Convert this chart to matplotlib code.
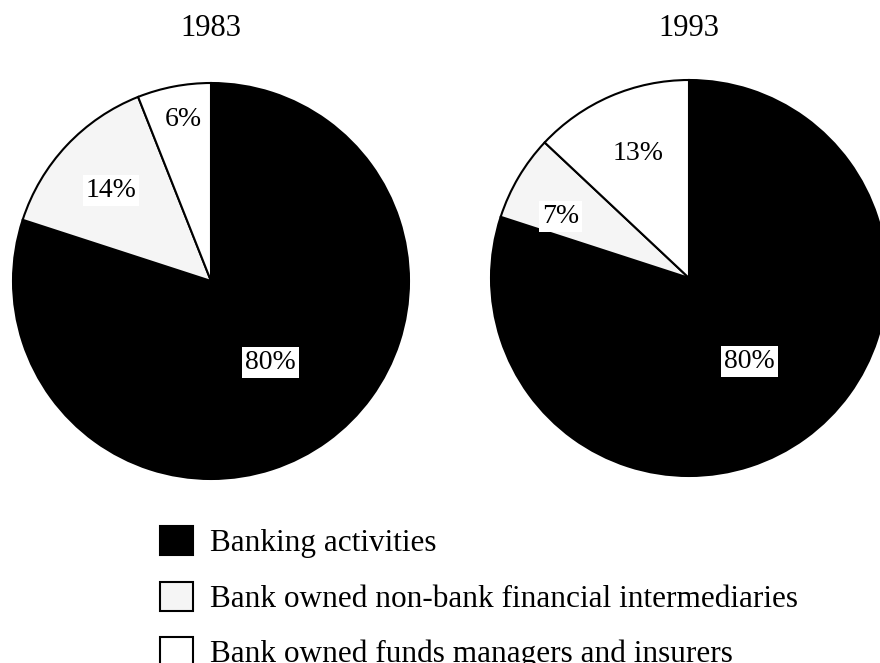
import numpy as np
import matplotlib
matplotlib.use("Agg")
import matplotlib.pyplot as plt
from matplotlib.patches import Patch

plt.rcParams['font.family'] = ['Liberation Serif', 'DejaVu Serif']

years = ["1983", "1993"]
categories = ["Banking activities",
              "Bank owned non-bank financial intermediaries",
              "Bank owned funds managers and insurers"]
shares_1983 = [80, 14, 6]
shares_1993 = [80, 7, 13]
colors = ["black", "#f5f5f5", "white"]

# label placement per wedge: fraction of radius, angle nudge in degrees
label_dist = [[0.51, 0.68, 0.83], [0.52, 0.72, 0.68]]
label_nudge = [[0, 1, -1], [0, 5, -1]]
centers = [(211, 382), (689, 385)]
radius = 198

fig = plt.figure(figsize=(8.8, 6.63), dpi=100)
ax = fig.add_axes([0, 0, 1, 1])
ax.axis('off')

for i, shares in enumerate([shares_1983, shares_1993]):
    wedges, _ = ax.pie(shares, colors=colors, startangle=90, counterclock=False,
                       center=centers[i], radius=radius,
                       wedgeprops=dict(edgecolor='black', linewidth=1.5))
    for j, w in enumerate(wedges):
        mid = np.deg2rad((w.theta1 + w.theta2) / 2 + label_nudge[i][j])
        d = label_dist[i][j] * radius
        ax.text(centers[i][0] + d * np.cos(mid), centers[i][1] + d * np.sin(mid),
                f"{shares[j]}%", ha='center', va='center', fontsize=20,
                bbox=dict(facecolor='white', edgecolor='none', pad=2))
    ax.text(centers[i][0], 635, years[i], ha='center', va='center', fontsize=22)

ax.set_xlim(0, 880)
ax.set_ylim(0, 663)
ax.set_aspect('equal')

handles = [Patch(facecolor=c, edgecolor='black', linewidth=1.5) for c in colors]
fig.legend(handles, categories, loc='upper left', bbox_to_anchor=(0.182, 0.2065),
           frameon=False, fontsize=22.5, handlelength=1.05, handleheight=1.05,
           handletextpad=0.54, labelspacing=0.75, borderpad=0, borderaxespad=0)

fig.savefig("out.png", dpi=100)
